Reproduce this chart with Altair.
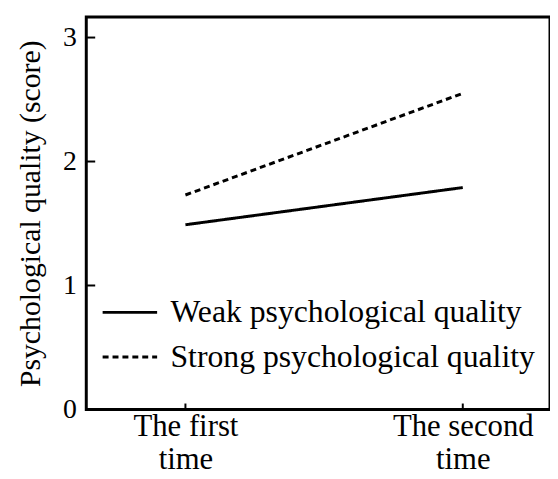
import altair as alt
import pandas as pd

time_labels = ["The first time", "The second time"]
group_labels = ["Weak psychological quality", "Strong psychological quality"]
weak_scores = [1.49, 1.79]
strong_scores = [1.73, 2.55]
y_ticks = [0, 1, 2, 3]

rows = []
for g, vals in zip(group_labels, [weak_scores, strong_scores]):
    for t, v in zip(time_labels, vals):
        rows.append({"time": t, "group": g, "score": v})
df = pd.DataFrame(rows)
tick_df = pd.DataFrame({"v": y_ticks})
xt_df = pd.DataFrame({"time": time_labels})

FONT = "Liberation Serif"
W, H = 468, 396

xscale = alt.Scale(type="point", domain=time_labels, padding=0.336, align=0.532)
yscale = alt.Scale(domain=[0, 3.165], nice=False, zero=False)

lines = alt.Chart(df).mark_line(color="black", strokeWidth=3).encode(
    x=alt.X("time:N", scale=xscale, title=None,
            axis=alt.Axis(ticks=False, domain=False, labelAngle=0,
                          labelFont=FONT, labelFontSize=31, labelColor="black",
                          labelPadding=2, labelLineHeight=34,
                          labelExpr="[replace(datum.label, ' time', ''), 'time']")),
    y=alt.Y("score:Q", scale=yscale, title="Psychological quality (score)",
            axis=alt.Axis(values=y_ticks, format="d", ticks=False, domain=False, grid=False,
                          labelFont=FONT, labelFontSize=28, labelColor="black",
                          labelPadding=10, titleFont=FONT, titleFontSize=30,
                          titleFontWeight="normal", titleColor="black",
                          titlePadding=17)),
    strokeDash=alt.StrokeDash("group:N", scale=alt.Scale(domain=group_labels, range=[[1, 0], [6, 4]]),
                              sort=group_labels,
                              legend=alt.Legend(title=None, orient="none", legendX=15, legendY=269,
                                                symbolType="stroke", symbolSize=3025,
                                                symbolStrokeWidth=3, symbolStrokeColor="black",
                                                labelFont=FONT, labelFontSize=32, labelColor="black",
                                                labelOffset=12, rowPadding=0, labelLimit=500)),
)

yticks = alt.Chart(tick_df).mark_rule(color="black", strokeWidth=2).encode(
    y=alt.Y("v:Q", scale=yscale), x=alt.value(0), x2=alt.value(9)
)
xticks = alt.Chart(xt_df).mark_rule(color="black", strokeWidth=2).encode(
    x=alt.X("time:N", scale=xscale), y=alt.value(H), y2=alt.value(H - 6)
)

chart = alt.layer(lines, yticks, xticks).properties(
    width=W, height=H,
    autosize=alt.AutoSizeParams(type="none"),
    padding={"left": 79, "top": 7, "right": 0, "bottom": 68},
).configure(background="white").configure_view(stroke="black", strokeWidth=3)

chart.save("out.html", embed_options={"renderer": "svg", "actions": False})
